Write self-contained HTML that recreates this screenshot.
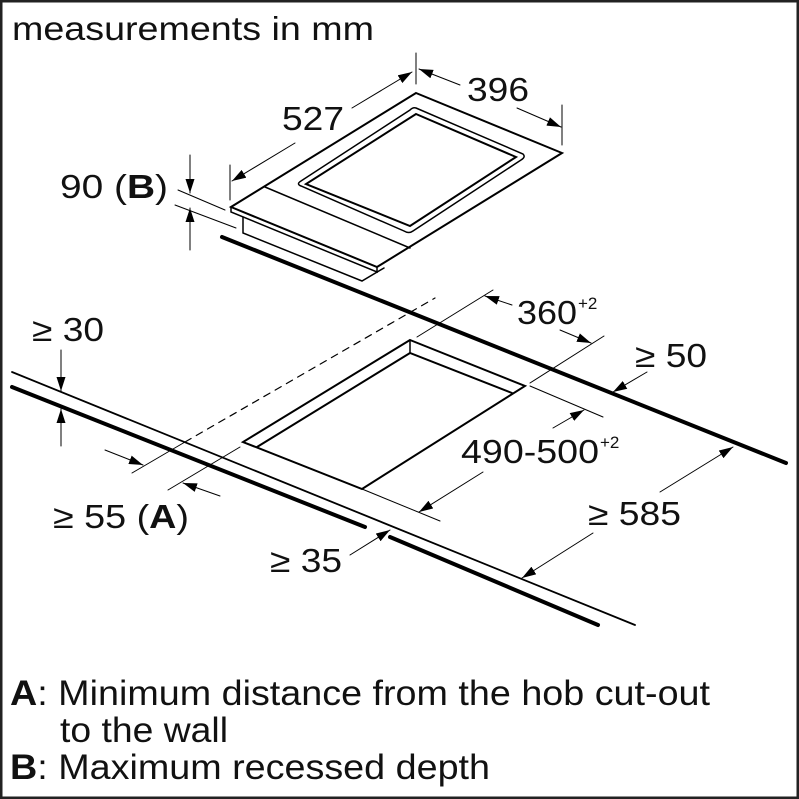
<!DOCTYPE html>
<html><head><meta charset="utf-8"><style>
html,body{margin:0;padding:0;background:#fff}
svg{display:block}
text{font-family:"Liberation Sans",Arial,sans-serif;fill:#111}
</style></head><body>
<svg width="799" height="799" viewBox="0 0 799 799" xmlns="http://www.w3.org/2000/svg">
<defs>
<marker id="ar" markerWidth="14" markerHeight="9" refX="14" refY="4.5" orient="auto" markerUnits="userSpaceOnUse">
<path d="M0,0 L14,4.5 L0,9 Z" fill="#000"/></marker>
</defs>
<rect x="1" y="1" width="797" height="797" fill="#fff" stroke="#222" stroke-width="3"/>
<g stroke="#000" fill="none" stroke-linecap="round">
<line x1="222" y1="237" x2="786" y2="463" stroke-width="4"/>
<line x1="12" y1="372" x2="635" y2="625" stroke-width="1.8"/>
<line x1="12" y1="387" x2="365" y2="527" stroke-width="4"/>
<line x1="390" y1="537" x2="598" y2="625" stroke-width="4"/>
<polygon points="410,340 525,386 362,489 243,442" stroke-width="2"/>
<polyline points="257,447 410,353 512,393" stroke-width="2"/>
<line x1="410" y1="340" x2="410" y2="353" stroke-width="1.5"/>
<line x1="185" y1="442" x2="435" y2="298" stroke-width="1.2" stroke-dasharray="7,6"/>
<line x1="132" y1="473" x2="185" y2="442" stroke-width="1"/>
<line x1="168" y1="490" x2="240" y2="447" stroke-width="1"/>
<line x1="417" y1="337" x2="493" y2="290" stroke-width="1"/>
<line x1="530" y1="383" x2="604" y2="336" stroke-width="1"/>
<line x1="530" y1="386" x2="603" y2="417" stroke-width="1"/>
<line x1="362" y1="489" x2="440" y2="521" stroke-width="1"/>
<line x1="512" y1="305" x2="485" y2="296" stroke-width="1" marker-end="url(#ar)"/>
<line x1="560" y1="330" x2="591" y2="343" stroke-width="1" marker-end="url(#ar)"/>
<line x1="553" y1="428" x2="584" y2="410" stroke-width="1" marker-end="url(#ar)"/>
<line x1="483" y1="472" x2="419" y2="512" stroke-width="1" marker-end="url(#ar)"/>
<line x1="647" y1="372" x2="613" y2="392" stroke-width="1" marker-end="url(#ar)"/>
<line x1="660" y1="492" x2="733" y2="447" stroke-width="1" marker-end="url(#ar)"/>
<line x1="593" y1="533" x2="522" y2="578" stroke-width="1" marker-end="url(#ar)"/>
<line x1="61" y1="350" x2="61" y2="391" stroke-width="1" marker-end="url(#ar)"/>
<line x1="61" y1="446" x2="61" y2="409" stroke-width="1" marker-end="url(#ar)"/>
<line x1="105" y1="450" x2="143" y2="465" stroke-width="1" marker-end="url(#ar)"/>
<line x1="220" y1="496" x2="183" y2="483" stroke-width="1" marker-end="url(#ar)"/>
<line x1="350" y1="555" x2="390" y2="530" stroke-width="1" marker-end="url(#ar)"/>
<polygon points="416,93 562,153 377,267 231,207" stroke-width="2" fill="#fff"/>
<line x1="265" y1="187" x2="410" y2="248" stroke-width="1.5"/>
<polyline points="231,207 231,212 377,272 377,267" stroke-width="1.5"/>
<polyline points="243,217 243,233 362,281 384,268" stroke-width="1.5"/>
<path d="M416,108 L523,154 Q526,157 521,160 L413,231 Q409,234 404,231 L301,186 Q296,184 301,181 L410,110 Q413,107 416,108 Z" stroke-width="1.5"/>
<path d="M416,114 L516,157 L410,226 L306,184 Z" stroke-width="2"/>
<line x1="416" y1="53" x2="416" y2="84" stroke-width="1"/>
<line x1="230" y1="165" x2="230" y2="200" stroke-width="1"/>
<line x1="562" y1="105" x2="562" y2="145" stroke-width="1"/>
<line x1="352" y1="108" x2="412" y2="72" stroke-width="1" marker-end="url(#ar)"/>
<line x1="295" y1="143" x2="232" y2="181" stroke-width="1" marker-end="url(#ar)"/>
<line x1="460" y1="85" x2="419" y2="69" stroke-width="1" marker-end="url(#ar)"/>
<line x1="517" y1="108" x2="561" y2="127" stroke-width="1" marker-end="url(#ar)"/>
<line x1="190" y1="155" x2="190" y2="193" stroke-width="1" marker-end="url(#ar)"/>
<line x1="190" y1="250" x2="190" y2="208" stroke-width="1" marker-end="url(#ar)"/>
<line x1="178" y1="190" x2="225" y2="210" stroke-width="1"/>
<line x1="175" y1="205" x2="236" y2="228" stroke-width="1"/>
</g>
<g font-size="33">
<text x="12" y="40" textLength="362" lengthAdjust="spacingAndGlyphs">measurements in mm</text>
<text x="282" y="130" textLength="62" lengthAdjust="spacingAndGlyphs">527</text>
<text x="467" y="101" textLength="62" lengthAdjust="spacingAndGlyphs">396</text>
<text x="60" y="198" textLength="108" lengthAdjust="spacingAndGlyphs">90 (<tspan font-weight="bold">B</tspan>)</text>
<text x="32" y="341" textLength="72" lengthAdjust="spacingAndGlyphs">≥ 30</text>
<text x="53" y="528" textLength="136" lengthAdjust="spacingAndGlyphs">≥ 55 (<tspan font-weight="bold">A</tspan>)</text>
<text x="270" y="572" textLength="72" lengthAdjust="spacingAndGlyphs">≥ 35</text>
<text x="517" y="324" textLength="60" lengthAdjust="spacingAndGlyphs">360</text>
<text x="578" y="309" font-size="17">+2</text>
<text x="635" y="367" textLength="72" lengthAdjust="spacingAndGlyphs">≥ 50</text>
<text x="461" y="463" textLength="138" lengthAdjust="spacingAndGlyphs">490-500</text>
<text x="600" y="448" font-size="17">+2</text>
<text x="588" y="525" textLength="93" lengthAdjust="spacingAndGlyphs">≥ 585</text>
</g>
<g font-size="35">
<text x="10" y="705" textLength="700" lengthAdjust="spacingAndGlyphs"><tspan font-weight="bold">A</tspan>: Minimum distance from the hob cut-out</text>
<text x="60" y="742" textLength="168" lengthAdjust="spacingAndGlyphs">to the wall</text>
<text x="10" y="779" textLength="480" lengthAdjust="spacingAndGlyphs"><tspan font-weight="bold">B</tspan>: Maximum recessed depth</text>
</g>
</svg>
</body></html>
